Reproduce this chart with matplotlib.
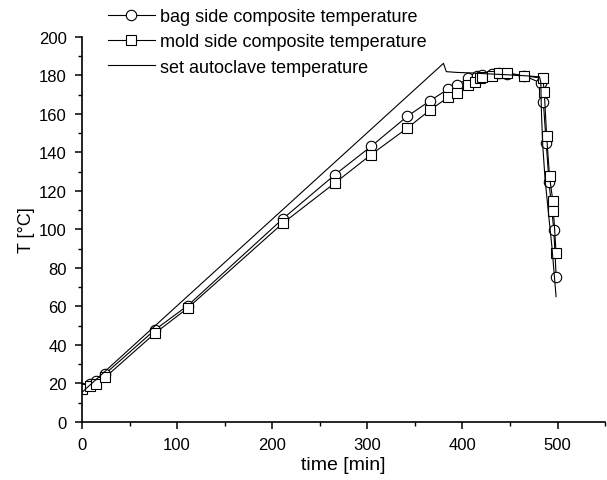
import numpy as np
import matplotlib.pyplot as plt
from matplotlib.ticker import MultipleLocator

plt.rcParams['font.family'] = ['Liberation Sans', 'DejaVu Sans']

# bag side composite temperature (circles)
bag_time = [0, 8.6, 14.6, 24.4, 77, 111, 211, 266, 304, 342, 366, 385, 394, 406,
            415, 421, 431, 438, 447, 465, 483, 485, 488, 491, 496, 498.5]
bag_T = [17.5, 19.6, 21.5, 25, 48, 60.4, 105.5, 128.5, 143.2, 158.8, 166.9, 173,
         175.1, 178.5, 179.6, 180.5, 181, 181.5, 180.6, 179.8, 176, 166.4, 144.9,
         124.5, 99.7, 75.2]

# mold side composite temperature (squares)
mold_time = [0.5, 8.6, 14.6, 24.4, 77, 111, 211, 266, 304, 342, 366, 385, 394, 406,
             413, 418, 421, 431, 438, 447, 465, 484.5, 486, 488.5, 491.5, 495,
             495.6, 498.4]
mold_T = [17, 18.5, 19.7, 23.2, 46.2, 59.1, 103.2, 124.2, 138.9, 152.7, 162.1,
          168.7, 170.9, 175.1, 176.5, 178.5, 179, 179.9, 181.1, 181.3, 179.9, 178.5,
          171.3, 148.4, 127.6, 114.6, 109.8, 87.8]

# set autoclave temperature
set_time = [0, 380, 383, 394, 411, 425, 446, 465, 481, 482.3, 483, 484.4, 486.8,
            490.3, 493.9, 498.4]
set_T = [15.4, 186.3, 182, 181.6, 181.3, 180.9, 180.4, 179.9, 179.3, 176.5, 160.9,
         143.5, 126.2, 108.9, 91.6, 65.1]

fig = plt.figure(figsize=(6.07, 4.81), dpi=100)
ax = fig.add_axes([0.135, 0.1206, 0.862, 0.8004])

ax.plot(bag_time, bag_T, '-o', color='black', lw=0.8, ms=7.5, mfc='white',
        mec='black', mew=0.8, label='bag side composite temperature')
ax.plot(mold_time, mold_T, '-s', color='black', lw=0.8, ms=7, mfc='white',
        mec='black', mew=0.8, label='mold side composite temperature')
ax.plot(set_time, set_T, '-', color='black', lw=0.8,
        label='set autoclave temperature')

ax.set_xlim(0, 550)
ax.set_ylim(0, 200)
ax.xaxis.set_major_locator(MultipleLocator(100))
ax.xaxis.set_minor_locator(MultipleLocator(50))
ax.yaxis.set_major_locator(MultipleLocator(20))
ax.yaxis.set_minor_locator(MultipleLocator(10))
ax.spines['top'].set_visible(False)
ax.spines['right'].set_visible(False)
for s in ['left', 'bottom']:
    ax.spines[s].set_linewidth(1.2)
ax.tick_params(which='major', direction='out', length=5, width=1.1,
               labelsize=12, pad=6)
ax.tick_params(which='minor', direction='out', length=3, width=1.0)
ax.set_xlabel('time [min]', fontsize=14, labelpad=3)
ax.set_ylabel('T [°C]', fontsize=13, labelpad=3)

fig.legend(loc='upper left', bbox_to_anchor=(108 / 607, 1 - 9 / 481),
           frameon=False, fontsize=13, handlelength=2.6, handletextpad=0.3,
           labelspacing=0.46, borderpad=0, borderaxespad=0)

fig.savefig('out.png', dpi=100)
